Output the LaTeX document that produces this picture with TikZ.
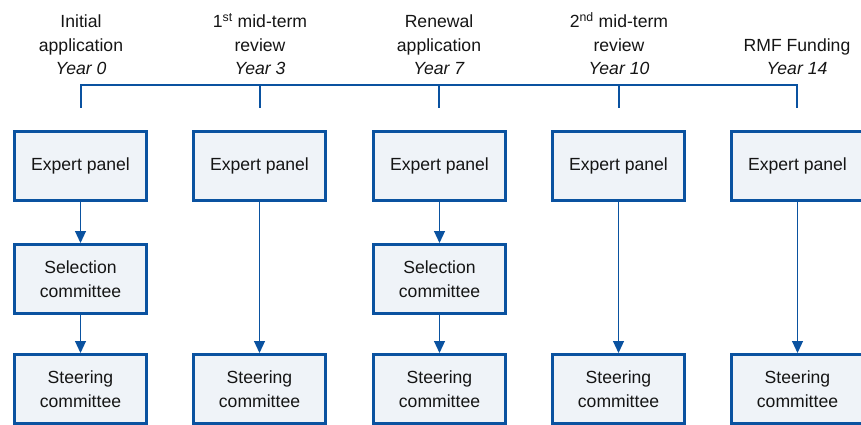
\documentclass[tikz,border=0pt]{standalone}
\usepackage{fontspec}
\setmainfont{Liberation Sans}
\usetikzlibrary{arrows.meta}
\definecolor{bdr}{HTML}{0A52A0}
\definecolor{fil}{HTML}{EFF3F8}
\definecolor{txt}{HTML}{151515}
\tikzset{
  box/.style={draw=bdr, line width=3pt, fill=fil, minimum width=132pt, minimum height=69pt,
    inner sep=0pt, align=center, font=\fontsize{17.6}{23.5}\selectfont, text=txt},
  hdr/.style={anchor=south, inner sep=0pt, align=center, font=\fontsize{17.6}{23.5}\selectfont, text=txt},
  conn/.style={draw=bdr, line width=1.1pt, -{Triangle[width=11pt,length=12pt]}},
  bar/.style={draw=bdr, line width=2.2pt},
}
\begin{document}
\begin{tikzpicture}[x=1pt,y=-1pt]
\useasboundingbox (0,0) rectangle (861,425);
\begin{scope}
\clip (0,0) rectangle (861,425);
% headers
\node[hdr] (h1) at (81,75) {Initial\\application\\\textit{Year 0}};
\node[hdr] (h2) at (260,75) {1\textsuperscript{st} mid-term\\review\\\textit{Year 3}};
\node[hdr] (h3) at (439,75) {Renewal\\application\\\textit{Year 7}};
\node[hdr] (h4) at (619,75) {2\textsuperscript{nd} mid-term\\review\\\textit{Year 10}};
\node[hdr] (h5) at (797,75) {RMF Funding\\\textit{Year 14}};
% timeline
\coordinate (t1) at (81,85);
\coordinate (t2) at (260,85);
\coordinate (t3) at (439,85);
\coordinate (t4) at (619,85);
\coordinate (t5) at (797,85);
\coordinate (b1) at (81,108);
\coordinate (b2) at (260,108);
\coordinate (b3) at (439,108);
\coordinate (b4) at (619,108);
\coordinate (b5) at (797,108);
\draw[bar] (b1) -- (t1) -- (t5) -- (b5);
\draw[bar] (t2) -- (b2);
\draw[bar] (t3) -- (b3);
\draw[bar] (t4) -- (b4);
% boxes
\node[box] (e1) at (80.5,166) {Expert panel};
\node[box] (e2) at (259.5,166) {Expert panel};
\node[box] (e3) at (439.5,166) {Expert panel};
\node[box] (e4) at (618.5,166) {Expert panel};
\node[box] (e5) at (797.5,166) {Expert panel};
\node[box] (s1) at (80.5,279) {Selection\\committee};
\node[box] (s3) at (439.5,279) {Selection\\committee};
\node[box] (c1) at (80.5,389) {Steering\\committee};
\node[box] (c2) at (259.5,389) {Steering\\committee};
\node[box] (c3) at (439.5,389) {Steering\\committee};
\node[box] (c4) at (618.5,389) {Steering\\committee};
\node[box] (c5) at (797.5,389) {Steering\\committee};
% connectors
\draw[conn] (e1) -- (s1);
\draw[conn] (s1) -- (c1);
\draw[conn] (e2) -- (c2);
\draw[conn] (e3) -- (s3);
\draw[conn] (s3) -- (c3);
\draw[conn] (e4) -- (c4);
\draw[conn] (e5) -- (c5);
\end{scope}
\end{tikzpicture}
\end{document}
